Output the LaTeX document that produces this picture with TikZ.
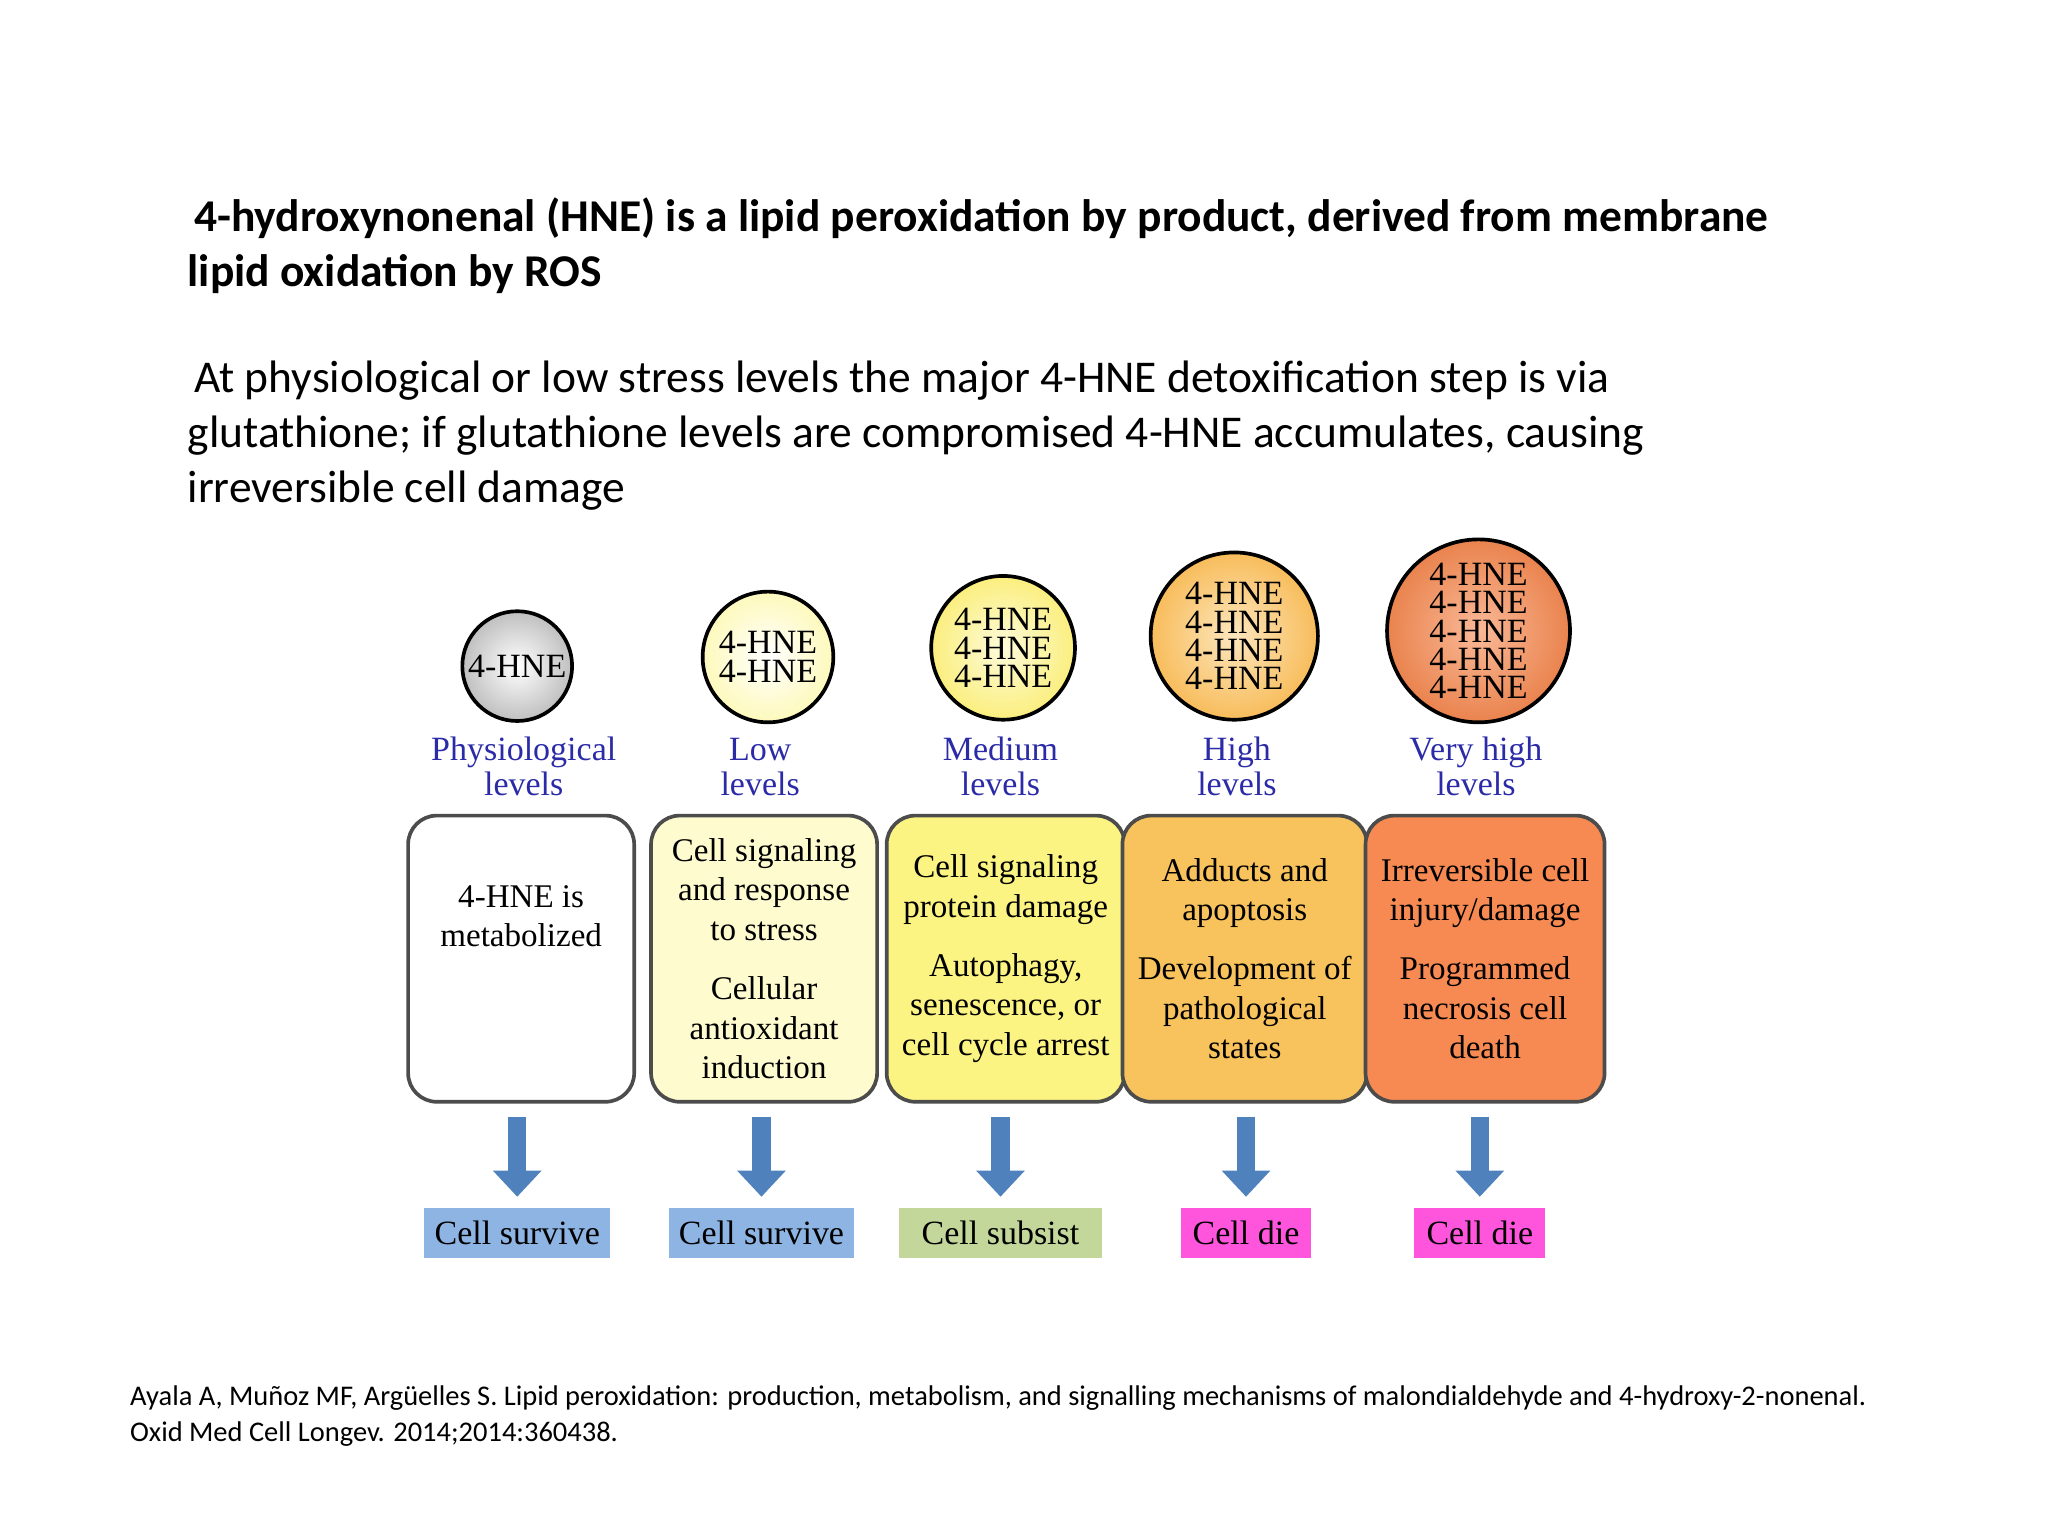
\documentclass[tikz,border=0pt]{standalone}
\usepackage{fontspec}
\setmainfont{Liberation Serif}
\newfontfamily\slidefont{Carlito}
\usetikzlibrary{arrows.meta}

\definecolor{hneblue}{HTML}{4F81BD}
\definecolor{lvlblue}{HTML}{2B2BA8}
\definecolor{cwhite}{HTML}{FFFFFF}
\definecolor{clow}{HTML}{FEFBCF}
\definecolor{cmed}{HTML}{FBF382}
\definecolor{chigh}{HTML}{F8C25C}
\definecolor{cvhigh}{HTML}{F68A52}
\definecolor{osurv}{HTML}{8DB4E2}
\definecolor{osub}{HTML}{C4D79B}
\definecolor{odie}{HTML}{FF55DD}

\begin{document}
\begin{tikzpicture}[x=0.01cm, y=-0.01cm, >=Triangle]
      \tikzstyle{ball} = [draw, thick, circle, inner sep=0pt, align=center, font=\fontsize{7.4}{6.2}\selectfont]
      \tikzstyle{level} = [text=lvlblue, align=center, font=\fontsize{7.4}{7.6}\selectfont]
      \tikzstyle{stage} = [draw=black!70, thick, rounded corners=0.22cm, minimum width=1.73cm, minimum height=2.19cm, align=center, font=\fontsize{7.2}{8.6}\selectfont]
      \tikzstyle{fate} = [minimum height=0.38cm, inner sep=0pt, font=\fontsize{7.4}{8}\selectfont]
      \tikzstyle{down} = [draw=hneblue, line width=0.14cm, -{Triangle[width=0.36cm, length=0.2cm]}, shorten <=0.1cm, shorten >=0.08cm]
      \useasboundingbox (0,0) rectangle (1568,1176);
      % header text
      \node[anchor=north west, inner sep=0pt, font=\slidefont\bfseries\fontsize{9.9}{11.9}\selectfont, align=left] (title) at (143,151)
        {\hspace{0.05cm}4-hydroxynonenal (HNE) is a lipid peroxidation by product, derived from membrane\\lipid oxidation by ROS};
      \node[anchor=north west, inner sep=0pt, font=\slidefont\fontsize{9.9}{11.9}\selectfont, align=left] (intro) at (143,276)
        {\hspace{0.05cm}At physiological or low stress levels the major 4-HNE detoxification step is via\\glutathione; if glutathione levels are compromised 4-HNE accumulates, causing\\irreversible cell damage};
      % circles
      \node[ball, inner color=white, outer color=black!25, minimum size=0.84cm] (c1) at (396,510) {4-HNE};
      \node[ball, inner color=white, outer color=clow!75!cmed, minimum size=1.0cm] (c2) at (588,503) {4-HNE\\4-HNE};
      \node[ball, inner color=cmed!30, outer color=cmed!90!chigh, minimum size=1.1cm] (c3) at (768,496) {4-HNE\\4-HNE\\4-HNE};
      \node[ball, inner color=chigh!40, outer color=chigh!90!cvhigh, minimum size=1.28cm] (c4) at (945,487) {4-HNE\\4-HNE\\4-HNE\\4-HNE};
      \node[ball, inner color=cvhigh!60, outer color=cvhigh!95!black, minimum size=1.4cm] (c5) at (1132,483) {4-HNE\\4-HNE\\4-HNE\\4-HNE\\4-HNE};
      % level names
      \node[level] (l1) at (401,587) {Physiological\\levels};
      \node[level] (l2) at (582,587) {Low\\levels};
      \node[level] (l3) at (766,587) {Medium\\levels};
      \node[level] (l4) at (947,587) {High\\levels};
      \node[level] (l5) at (1130,587) {Very high\\levels};
      % stage boxes
      \node[stage, fill=cwhite] (b1) at (399,734) {4-HNE is\\metabolized\\[0.35cm]};
      \node[stage, fill=clow] (b2) at (585,734) {Cell signaling\\and response\\to stress\\[0.15cm]Cellular\\antioxidant\\induction};
      \node[stage, fill=cmed] (b3) at (770,734) {Cell signaling\\protein damage\\[0.15cm]Autophagy,\\senescence, or\\cell cycle arrest};
      \node[stage, fill=chigh] (b4) at (953,734) {Adducts and\\apoptosis\\[0.15cm]Development of\\pathological\\states};
      \node[stage, fill=cvhigh] (b5) at (1137,734) {Irreversible cell\\injury/damage\\[0.15cm]Programmed\\necrosis cell\\death};
      % outcomes
      \node[fate, fill=osurv, minimum width=1.42cm] (o1) at (396,944) {Cell survive};
      \node[fate, fill=osurv, minimum width=1.41cm] (o2) at (583,944) {Cell survive};
      \node[fate, fill=osub, minimum width=1.56cm] (o3) at (766,944) {Cell subsist};
      \node[fate, fill=odie, minimum width=1.0cm] (o4) at (954,944) {Cell die};
      \node[fate, fill=odie, minimum width=1.0cm] (o5) at (1133,944) {Cell die};
      \foreach \i in {1,...,5}
        \draw[down] (b\i.south -| o\i) -- (o\i.north);
      % reference
      \node[anchor=north west, inner sep=0pt, font=\slidefont\fontsize{6.2}{8}\selectfont, align=left] (cite) at (99,1060)
        {Ayala A, Muñoz MF, Argüelles S. Lipid peroxidation: production, metabolism, and signalling mechanisms of malondialdehyde and 4-hydroxy-2-nonenal.\\Oxid Med Cell Longev. 2014;2014:360438.};
\end{tikzpicture}
\end{document}
